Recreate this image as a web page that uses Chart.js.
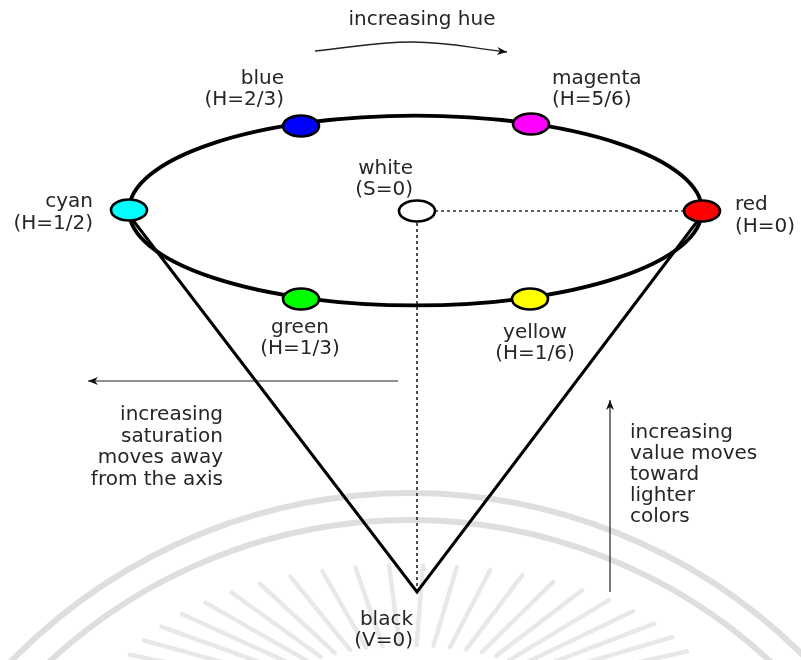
<!DOCTYPE html>
<html>
<head>
<meta charset="utf-8">
<title>HSV cone</title>
<script src="https://cdn.jsdelivr.net/npm/chart.js@4.4.1/dist/chart.umd.min.js"></script>
<style>
  html, body { margin: 0; padding: 0; background: #fff; }
  canvas { display: block; }
</style>
</head>
<body>
<canvas id="hsvChart" width="801" height="660"></canvas>
<script>
// hue points around the top rim of the cone
const hueNames = ['red', 'yellow', 'green', 'cyan', 'blue', 'magenta'];
const hueTags = ['(H=0)', '(H=1/6)', '(H=1/3)', '(H=1/2)', '(H=2/3)', '(H=5/6)'];
const hueFills = ['#ff0000', '#ffff00', '#00ff00', '#00ffff', '#0000ff', '#ff00ff'];
const hueX = [702, 530, 301, 129, 301, 531];
const hueY = [211, 299, 299, 210, 126, 124];

// the value axis: white on top, black at the tip
const axisX = [417, 417];
const axisY = [211, 592];

// explanatory arrows
const hueArrowX = [315, 413, 507];
const hueArrowY = [51, 42, 52];
const satArrowX = [398, 88];
const satArrowY = [381, 381];
const valArrowX = [610, 610];
const valArrowY = [592, 400];

const textColor = '#262626';
const font = '20px "DejaVu Sans", Verdana, sans-serif';

function pts(xs, ys) {
    return xs.map((x, i) => ({ x: x, y: ys[i] }));
}

// elliptical marker drawn once per colour and used as the point style
function makeMarker(fill) {
    const c = document.createElement('canvas');
    c.width = 42;
    c.height = 26;
    const g = c.getContext('2d');
    g.beginPath();
    g.ellipse(21, 13, 18, 10.5, 0, 0, Math.PI * 2);
    g.fillStyle = fill;
    g.fill();
    g.lineWidth = 2.6;
    g.strokeStyle = '#000';
    g.stroke();
    return c;
}

const markerData = pts(hueX, hueY).concat([{ x: axisX[0], y: axisY[0] }]);
const markerStyles = hueFills.concat(['#ffffff']).map(makeMarker);

// text blocks: lines, anchor and alignment
const labels = [
    { lines: ['increasing hue'], x: 422, y: 25, align: 'center' },
    { lines: [hueNames[0], hueTags[0]], x: 735, y: 210, align: 'left', gap: 22 },
    { lines: [hueNames[1], hueTags[1]], x: 535, y: 338, align: 'center' },
    { lines: [hueNames[2], hueTags[2]], x: 300, y: 333, align: 'center' },
    { lines: [hueNames[3], hueTags[3]], x: 93, y: 207, align: 'right', gap: 22 },
    { lines: [hueNames[4], hueTags[4]], x: 284, y: 84, align: 'right' },
    { lines: [hueNames[5], hueTags[5]], x: 552, y: 84, align: 'left' },
    { lines: ['white', '(S=0)'], x: 413, y: 174, align: 'right' },
    { lines: ['black', '(V=0)'], x: 413, y: 625, align: 'right' },
    { lines: ['increasing', 'saturation', 'moves away', 'from the axis'], x: 223, y: 420, align: 'right', gap: 21.5 },
    { lines: ['increasing', 'value moves', 'toward', 'lighter', 'colors'], x: 630, y: 438, align: 'left', gap: 21 }
];

const decorPlugin = {
    id: 'hsvDecor',
    beforeDraw(chart) {
        const ctx = chart.ctx;
        const sx = chart.scales.x, sy = chart.scales.y;
        ctx.save();
        ctx.fillStyle = '#ffffff';
        ctx.fillRect(0, 0, chart.width, chart.height);

        // faint watermark behind the picture
        ctx.strokeStyle = 'rgba(0,0,0,0.13)';
        ctx.lineWidth = 6;
        [557, 530].forEach(r => {
            ctx.beginPath();
            ctx.arc(sx.getPixelForValue(410), sy.getPixelForValue(1050), r, Math.PI, Math.PI * 2);
            ctx.stroke();
        });
        ctx.strokeStyle = 'rgba(0,0,0,0.09)';
        ctx.lineCap = 'round';
        ctx.lineWidth = 4.5;
        const cx = sx.getPixelForValue(410), cy = sy.getPixelForValue(705);
        for (let a = 188; a <= 352; a += 6.5) {
            const t = a * Math.PI / 180;
            const c = Math.cos(t), s = Math.sin(t);
            ctx.beginPath();
            ctx.moveTo(cx + 150 * c, cy + 60 * s);
            ctx.lineTo(cx + 300 * c, cy + 140 * s);
            ctx.stroke();
        }
        ctx.restore();
    },
    beforeDatasetsDraw(chart) {
        // the rim of the cone, fitted through the hue points
        const ctx = chart.ctx;
        const sx = chart.scales.x, sy = chart.scales.y;
        const left = Math.min(...hueX), right = Math.max(...hueX);
        const cxv = (left + right) / 2;
        const cyv = (hueY[hueX.indexOf(left)] + hueY[hueX.indexOf(right)]) / 2;
        const rxv = (right - left) / 2;
        let sum = 0, n = 0;
        hueX.forEach((x, i) => {
            const k = (x - cxv) / rxv;
            if (Math.abs(k) < 0.9) {
                sum += Math.abs(hueY[i] - cyv) / Math.sqrt(1 - k * k);
                n++;
            }
        });
        const ryv = sum / n;
        const px = sx.getPixelForValue(cxv), py = sy.getPixelForValue(cyv);
        const prx = Math.abs(sx.getPixelForValue(cxv + rxv) - px);
        const pry = Math.abs(sy.getPixelForValue(cyv + ryv) - py);
        ctx.save();
        ctx.beginPath();
        ctx.ellipse(px, py, prx, pry, 0, 0, Math.PI * 2);
        ctx.lineWidth = 3.8;
        ctx.strokeStyle = '#000';
        ctx.stroke();
        ctx.restore();
    },
    afterDatasetsDraw(chart) {
        const ctx = chart.ctx;
        const sx = chart.scales.x, sy = chart.scales.y;
        ctx.save();

        // arrow heads at the end of each arrow dataset
        chart.data.datasets.forEach((ds, i) => {
            if (!ds.arrow) return;
            const els = chart.getDatasetMeta(i).data;
            const end = els[els.length - 1];
            const prev = els[els.length - 2];
            let fx = prev.x, fy = prev.y;
            if (end.cp1x !== undefined && ds.tension) { fx = end.cp1x; fy = end.cp1y; }
            const ang = Math.atan2(end.y - fy, end.x - fx);
            ctx.save();
            ctx.translate(end.x, end.y);
            ctx.rotate(ang);
            ctx.beginPath();
            ctx.moveTo(0, 0);
            ctx.lineTo(-10, -4);
            ctx.lineTo(-7, 0);
            ctx.lineTo(-10, 4);
            ctx.closePath();
            ctx.fillStyle = '#111';
            ctx.fill();
            ctx.restore();
        });

        // text
        ctx.font = font;
        ctx.fillStyle = textColor;
        ctx.textBaseline = 'alphabetic';
        labels.forEach(l => {
            ctx.textAlign = l.align;
            const gap = l.gap || 21;
            l.lines.forEach((t, k) => {
                ctx.fillText(t, sx.getPixelForValue(l.x), sy.getPixelForValue(l.y + k * gap));
            });
        });
        ctx.restore();
    }
};

const lineBase = { showLine: true, pointRadius: 0, pointHoverRadius: 0, fill: false };

const hsvChart = new Chart(document.getElementById('hsvChart'), {
    type: 'scatter',
    data: {
        datasets: [
            {
                label: 'colours',
                data: markerData,
                pointStyle: markerStyles,
                pointRadius: 10,
                showLine: false,
                order: 0
            },
            Object.assign({}, lineBase, {
                label: 'cone',
                data: [{ x: hueX[3], y: hueY[3] + 5 }, { x: axisX[1], y: axisY[1] }, { x: hueX[0], y: hueY[0] + 4 }],
                borderColor: '#000',
                borderWidth: 3,
                borderJoinStyle: 'miter',
                order: 1
            }),
            Object.assign({}, lineBase, {
                label: 'value axis',
                data: pts(axisX, axisY),
                borderColor: '#222',
                borderWidth: 1.6,
                borderDash: [3, 3],
                order: 2
            }),
            Object.assign({}, lineBase, {
                label: 'saturation radius',
                data: [{ x: axisX[0], y: axisY[0] }, { x: hueX[0], y: hueY[0] }],
                borderColor: '#222',
                borderWidth: 1.4,
                borderDash: [3, 3],
                order: 3
            }),
            Object.assign({}, lineBase, {
                label: 'hue arrow',
                data: pts(hueArrowX, hueArrowY),
                borderColor: '#222',
                borderWidth: 1.3,
                tension: 0.4,
                arrow: true,
                order: 4
            }),
            Object.assign({}, lineBase, {
                label: 'saturation arrow',
                data: pts(satArrowX, satArrowY),
                borderColor: '#222',
                borderWidth: 1.2,
                arrow: true,
                order: 5
            }),
            Object.assign({}, lineBase, {
                label: 'value arrow',
                data: pts(valArrowX, valArrowY),
                borderColor: '#222',
                borderWidth: 1.2,
                arrow: true,
                order: 6
            })
        ]
    },
    options: {
        responsive: false,
        animation: false,
        events: [],
        layout: { padding: 0, autoPadding: false },
        scales: {
            x: { type: 'linear', min: 0, max: 801, display: false },
            y: { type: 'linear', min: 0, max: 660, reverse: true, display: false }
        },
        plugins: {
            legend: { display: false },
            tooltip: { enabled: false }
        }
    },
    plugins: [decorPlugin]
});
</script>
</body>
</html>
